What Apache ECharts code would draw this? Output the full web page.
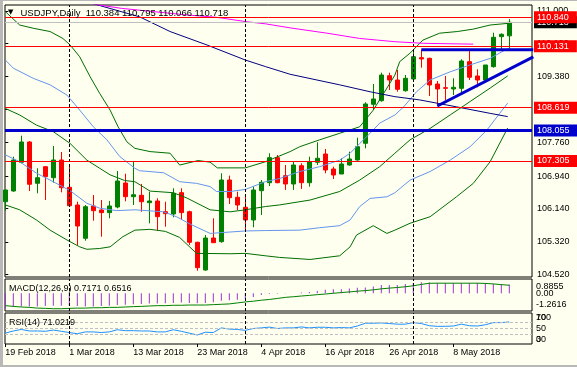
<!DOCTYPE html>
<html><head><meta charset="utf-8">
<script src="https://cdn.jsdelivr.net/npm/echarts@6/dist/echarts.min.js"></script>
<style>
html,body{margin:0;padding:0;background:#FFFFF0;overflow:hidden}
#wrap{position:relative;width:577px;height:367px}
#c{position:absolute;left:0;top:0;width:577px;height:367px}
.gl{position:absolute;left:0;top:0;width:3px;height:367px;background:#B8B8B8}
.gt{position:absolute;left:0;top:0;width:577px;height:1px;background:#B8B8B8}
.gb{position:absolute;left:0;bottom:0;width:577px;height:2px;background:#B8B8B8}
</style></head>
<body><div id="wrap"><div id="c"></div><div class="gl"></div><div class="gt"></div><div class="gb"></div></div>
<script>
// ---------------- DATA ----------------
const symbolTitle = 'USDJPY,Daily';
const lastBarOHLC = ['110.384', '110.795', '110.066', '110.718'];
const dateLabelIdx = [0, 8, 16, 24, 32, 40, 48, 56];
const dateLabels = ['19 Feb 2018', '1 Mar 2018', '13 Mar 2018', '23 Mar 2018', '4 Apr 2018', '16 Apr 2018', '26 Apr 2018', '8 May 2018'];
const monthStarts = [8, 30, 51];

const opens = [106.309,106.572,107.277,107.776,106.761,107.169,106.899,107.334,106.663,106.228,105.410,106.204,106.105,106.040,106.179,106.769,106.432,106.467,106.285,106.327,106.064,106.008,106.531,106.064,105.312,104.631,105.417,105.327,106.842,106.418,106.172,105.860,106.580,106.776,107.391,106.948,106.744,107.194,106.776,107.277,107.481,107.113,106.990,107.211,107.334,107.744,108.702,108.791,109.405,109.299,109.036,109.324,109.848,109.832,109.201,109.110,109.078,109.095,109.749,109.398,109.299,109.627,110.364,110.384];
const highs = [106.600,107.415,107.931,107.800,107.130,107.180,107.678,107.530,107.194,106.309,106.228,106.474,106.351,106.327,107.064,106.997,107.309,106.744,106.555,106.393,106.309,106.639,106.639,106.088,105.327,105.491,105.901,107.007,106.950,106.555,106.449,106.678,106.842,107.499,107.457,107.211,107.309,107.253,107.415,107.769,107.604,107.169,107.376,107.538,107.882,108.752,109.201,109.479,109.479,109.545,109.422,109.995,110.040,109.848,109.275,109.398,109.341,109.808,110.054,109.562,109.668,110.462,110.447,110.795];
const lows = [106.088,106.555,107.253,106.572,106.516,106.351,106.776,106.540,106.187,105.246,105.351,105.843,105.450,105.901,106.147,106.319,106.228,106.064,105.778,105.597,105.695,105.926,105.860,105.246,104.614,104.614,105.295,105.302,106.253,106.105,105.632,105.680,105.983,106.695,106.761,106.597,106.597,106.622,106.678,107.211,107.007,106.867,106.990,107.194,107.317,107.621,108.562,108.766,109.054,109.012,109.012,109.299,109.602,108.906,108.661,108.808,108.931,108.973,109.299,109.120,109.258,109.602,110.037,110.066];
const closes = [106.597,107.334,107.776,106.737,106.899,106.924,107.334,106.653,106.211,105.712,106.187,106.088,106.040,106.204,106.818,106.432,106.481,106.309,106.327,105.941,106.015,106.516,106.040,105.312,104.688,105.417,105.302,106.842,106.408,106.228,105.860,106.597,106.786,107.391,106.776,106.744,107.211,106.776,107.292,107.376,107.088,106.965,107.236,107.359,107.661,108.710,108.833,109.422,109.299,109.071,109.341,109.872,109.816,109.177,109.078,109.095,109.120,109.766,109.366,109.299,109.668,110.349,110.422,110.718];

// indicator lines: [bar index, price]
const bbUpper2 = [[0,110.98],[1.8,110.65],[3.5,110.57],[5.6,110.49],[7.2,110.32],[8.1,110.16],[9.3,109.87],[10.6,109.38],[11.8,108.97],[13.1,108.56],[14.1,108.15],[15.2,107.78],[16.2,107.62],[18.1,107.54],[20.6,107.50],[21.8,107.21],[24.1,107.32],[25.6,107.28],[26.5,107.14],[30,107.14],[32.5,107.29],[35.6,107.54],[36.8,107.66],[39.3,107.83],[41.8,107.99],[44.3,108.15],[46,108.56],[47.7,109.10],[48.7,109.42],[49.3,109.75],[50.6,109.96],[52.2,110.28],[54.3,110.45],[56.5,110.49],[58.5,110.55],[60.6,110.65],[62.8,110.69]];
const bbUpper1 = [[0,109.79],[1,109.59],[3.5,109.34],[5.6,109.18],[7.7,108.93],[9.3,108.56],[11,108.15],[12.7,107.83],[14.3,107.42],[16.2,107.13],[16.8,107.07],[19.8,107.02],[21.8,106.80],[23.9,106.76],[25.6,106.68],[26.4,106.56],[28.1,106.56],[30,106.61],[32.5,106.80],[34.3,106.88],[36.8,107.05],[39.3,107.17],[41.8,107.33],[43.1,107.50],[44.3,107.74],[45.6,107.99],[46.8,108.24],[48.7,108.44],[49.8,108.64],[51.4,109.01],[53.1,109.30],[55.6,109.50],[58.1,109.67],[60.6,109.83],[62.5,110.04],[63,110.08]];
const bbMid = [[0,108.60],[1.8,108.44],[3.9,108.19],[6,108.03],[8.1,107.74],[10.2,107.33],[11.8,107.13],[13.1,106.97],[14.9,106.83],[16.2,106.80],[18.1,106.57],[21,106.53],[22.7,106.40],[25.6,106.11],[28.1,106.06],[30,106.11],[32.5,106.19],[34.3,106.23],[38.1,106.35],[41.8,106.56],[44.3,106.84],[46.8,107.17],[48.7,107.50],[50.6,107.83],[53.1,108.11],[55.6,108.44],[58.1,108.77],[60.6,109.10],[62.8,109.40]];
const bbLower1 = [[0,107.46],[1.8,107.29],[3.9,107.01],[6,106.80],[8.1,106.58],[10.2,106.27],[11.8,106.15],[13.9,106.09],[16.2,106.11],[19.8,106.06],[21.4,105.94],[23.1,105.76],[25.6,105.53],[30,105.59],[32.5,105.60],[36.8,105.61],[39.3,105.67],[41.8,105.72],[43.1,105.86],[44.3,106.19],[45.6,106.39],[47.7,106.43],[48.7,106.53],[50.6,106.84],[53.1,107.05],[55.6,107.33],[58.1,107.66],[60.2,108.07],[61.8,108.48],[62.8,108.73]];
const bbLower2 = [[0,106.23],[1.8,106.11],[3.9,105.86],[5.6,105.61],[7.7,105.37],[9.3,105.20],[10.2,105.14],[11.8,105.16],[13.1,105.20],[14.7,105.45],[16.2,105.61],[18.1,105.63],[20,105.58],[21.8,105.43],[23.9,105.04],[28.1,105.03],[30,105.04],[32.5,104.98],[34.3,104.94],[38.1,104.89],[41.8,104.98],[43.1,105.20],[43.9,105.49],[46,105.72],[47.7,105.53],[48.7,105.61],[50.6,105.78],[53.1,105.94],[56.4,106.43],[58.5,106.76],[60.6,107.29],[62.8,108.12]];
const maNavy = [[10,111.24],[11.6,111.14],[16.8,110.85],[20.6,110.49],[25.2,110.16],[30,109.79],[32.5,109.63],[35.6,109.44],[41.8,109.18],[45.6,109.01],[48.7,108.89],[51.8,108.81],[56.4,108.64],[60.6,108.48],[62.8,108.40]];
const maMagenta = [[10,111.20],[11.8,111.14],[14.5,111.06],[22.5,110.90],[26.4,110.84],[30.2,110.73],[32.5,110.68],[35.6,110.58],[40.2,110.45],[44.3,110.32],[48.7,110.24],[52.3,110.20],[58.5,110.18]];

// drawn objects
const resistanceLine = [[52,110.04],[66,110.04]];
const supportLine = [[54,108.661],[66,109.867]];
const redLevels = [110.840, 110.131, 108.619, 107.305];
const blueLevel = 108.055;
const bidLevel = 110.718;
const priceTicks = [104.52,105.32,106.14,106.94,107.76,108.57,109.38,110.19,111.00];

// MACD(12,26,9)
const macdMain = [-1.26,-1.11,-1.06,-1.06,-1.06,-1.03,-1.00,-1.00,-1.00,-1.03,-1.06,-1.06,-1.03,-1.00,-0.95,-0.92,-0.89,-0.86,-0.83,-0.83,-0.81,-0.78,-0.75,-0.78,-0.81,-0.78,-0.72,-0.61,-0.56,-0.53,-0.47,-0.31,-0.14,-0.06,-0.03,-0.01,0.01,0.06,0.11,0.19,0.28,0.33,0.33,0.39,0.45,0.47,0.56,0.67,0.67,0.67,0.75,0.83,0.8855,0.88,0.83,0.83,0.83,0.83,0.83,0.83,0.83,0.75,0.75,0.7171];
const macdSignal = [-1.00,-1.06,-1.11,-1.14,-1.20,-1.22,-1.25,-1.25,-1.22,-1.20,-1.20,-1.17,-1.17,-1.14,-1.14,-1.11,-1.08,-1.06,-1.03,-1.00,-1.00,-0.97,-0.97,-0.95,-0.95,-0.95,-0.92,-0.89,-0.86,-0.78,-0.70,-0.64,-0.56,-0.50,-0.42,-0.33,-0.28,-0.22,-0.17,-0.11,-0.06,0.00,0.06,0.11,0.17,0.22,0.28,0.36,0.42,0.47,0.53,0.61,0.72,0.81,0.82,0.82,0.82,0.82,0.82,0.82,0.80,0.76,0.70,0.6516];
const macdScaleVals = [0.8855, 0, -1.2616];
const macdScaleText = ['0.8855', '0.00', '-1.2616'];
const macdScaleAlign = ['top', 'middle', 'bottom'];

// RSI(14)
const rsi = [35,42,47,42,42,41,45,41,37,33,39,39,37,39,46,43,43,42,42,39,39,46,41,35,29,38,37,52,48,47,44,50,52,54.5,50,52,52,55,52,54,54,52,53,52,58,67,67,68,66,64,64,69,66,59,57,57,58,64,59,58,62,69,69,71.0219];
const rsiLevels = [70, 50, 30];
const rsiScaleVals = [100, 70, 50, 30, 0];
const rsiScaleText = ['100', '70', '50', '30', '0'];
const rsiScaleAlign = ['top', 'bottom', 'middle', 'top', 'bottom'];

// ---------------- CHART ----------------
const FONT = '"Liberation Sans", Arial, sans-serif';
const X_MIN = -0.0375, X_MAX = 65.8375;
const GREEN = '#008000', RED = '#FF0000', BB_GREEN = '#006E00', BB_BLUE = '#6495ED', BLUE = '#0000CD';
const MACD_MIN = -1.434, MACD_MAX = 1.158;

const chart = echarts.init(document.getElementById('c'), null, {renderer: 'canvas'});

function xAx(gi, withLabels) {
  return {
    type: 'value', gridIndex: gi, min: X_MIN, max: X_MAX,
    axisLine: {show: false}, splitLine: {show: false},
    axisTick: withLabels ? {show: true, length: 3, customValues: dateLabelIdx, lineStyle: {color: '#000'}} : {show: false},
    axisLabel: withLabels ? {
      show: true, customValues: dateLabelIdx, align: 'left', margin: 4,
      fontSize: 9, fontFamily: FONT, color: '#000', hideOverlap: false,
      formatter: v => { const k = dateLabelIdx.indexOf(Math.round(v)); return k >= 0 ? dateLabels[k] : ''; }
    } : {show: false}
  };
}
// one overlaid scale axis per label alignment, like the terminal's sub-window scales
function subAxes(gi, min, max, vals, texts, aligns) {
  return ['top', 'middle', 'bottom'].map(va => {
    const v = vals.filter((_, k) => aligns[k] === va);
    return {
      type: 'value', gridIndex: gi, position: 'right', min, max,
      axisLine: {show: false}, splitLine: {show: false}, axisTick: {show: false},
      axisLabel: {
        show: v.length > 0, customValues: v, margin: 4, verticalAlign: va,
        showMinLabel: true, showMaxLabel: true, hideOverlap: false,
        fontSize: 9, fontFamily: FONT, color: '#000',
        formatter: x => { for (let k = 0; k < vals.length; k++) if (Math.abs(x - vals[k]) < 1e-6) return texts[k]; return ''; }
      }
    };
  });
}
function monthLines() {
  return {
    silent: true, symbol: ['none', 'none'], label: {show: false},
    lineStyle: {color: '#000', width: 1, type: [3, 2]},
    data: monthStarts.map(m => ({xAxis: m}))
  };
}
function lineSeries(name, data, color, width) {
  return {name, type: 'line', xAxisIndex: 0, yAxisIndex: 0, data, showSymbol: false, symbol: 'none',
    lineStyle: {color, width: width || 1}, silent: true, z: 3, clip: true};
}
function lvlLabel(text, bg) {
  return {show: true, position: 'end', distance: 2, formatter: text, backgroundColor: bg, color: '#fff',
    padding: [2, 8, 1, 3], fontSize: 9, fontFamily: FONT};
}

const macdAxes = subAxes(1, MACD_MIN, MACD_MAX, macdScaleVals, macdScaleText, macdScaleAlign);
const rsiAxes = subAxes(2, 0, 100, rsiScaleVals, rsiScaleText, rsiScaleAlign);

const option = {
  animation: false,
  backgroundColor: '#FFFFF0',
  title: [
    {left: 8, top: 9, padding: 0, text: '▼', textStyle: {fontSize: 7, color: '#000', fontWeight: 'normal', fontFamily: '"DejaVu Sans", sans-serif'}},
    {left: 20.5, top: 7, padding: 0, text: symbolTitle + '  ' + lastBarOHLC.join(' '),
      textStyle: {fontSize: 9.5, lineHeight: 12, color: '#000', fontWeight: 'normal', fontFamily: FONT}},
    {left: 9, top: 283, padding: 0, text: 'MACD(12,26,9) ' + macdMain[macdMain.length - 1].toFixed(4) + ' ' + macdSignal[macdSignal.length - 1].toFixed(4),
      textStyle: {fontSize: 9, lineHeight: 11, color: '#000', fontWeight: 'normal', fontFamily: FONT}},
    {left: 9, top: 317, padding: 0, text: 'RSI(14) ' + rsi[rsi.length - 1].toFixed(4),
      textStyle: {fontSize: 9, lineHeight: 11, color: '#000', fontWeight: 'normal', fontFamily: FONT}}
  ],
  grid: [
    {left: 5, top: 5, width: 527, height: 272, show: true, borderColor: '#000', borderWidth: 1, backgroundColor: 'transparent'},
    {left: 5, top: 279, width: 527, height: 32, show: true, borderColor: '#000', borderWidth: 1, backgroundColor: 'transparent'},
    {left: 5, top: 313, width: 527, height: 31, show: true, borderColor: '#000', borderWidth: 1, backgroundColor: 'transparent'}
  ],
  xAxis: [xAx(0, false), xAx(1, false), xAx(2, true)],
  yAxis: [
    {type: 'value', gridIndex: 0, position: 'right', min: 104.459, max: 111.142,
      axisLine: {show: false}, splitLine: {show: false},
      axisTick: {show: true, length: 3, customValues: priceTicks, lineStyle: {color: '#000'}},
      axisLabel: {customValues: priceTicks, margin: 5, fontSize: 9, fontFamily: FONT, color: '#000', hideOverlap: false, formatter: v => v.toFixed(3)}},
    macdAxes[0], rsiAxes[0], macdAxes[1], macdAxes[2], rsiAxes[1], rsiAxes[2]
  ],
  series: [
    {
      name: 'USDJPY', type: 'candlestick', xAxisIndex: 0, yAxisIndex: 0,
      data: opens.map((o, i) => [i, o, closes[i], lows[i], highs[i]]),
      encode: {x: 0, y: [1, 2, 3, 4]},
      barWidth: 5, z: 2,
      itemStyle: {color: GREEN, color0: RED, borderColor: GREEN, borderColor0: RED, borderWidth: 1},
      markLine: monthLines()
    },
    lineSeries('BB upper 2', bbUpper2, BB_GREEN),
    lineSeries('BB upper 1', bbUpper1, BB_BLUE),
    lineSeries('BB mid', bbMid, BB_GREEN),
    lineSeries('BB lower 1', bbLower1, BB_BLUE),
    lineSeries('BB lower 2', bbLower2, BB_GREEN),
    lineSeries('MA navy', maNavy, '#000080'),
    lineSeries('MA magenta', maMagenta, '#FF00FF'),
    Object.assign(lineSeries('support', supportLine, BLUE, 3), {z: 4}),
    Object.assign(lineSeries('resistance', resistanceLine, BLUE, 3), {
      z: 4,
      markLine: {
        silent: true, symbol: ['none', 'none'],
        data: [
          {yAxis: bidLevel, lineStyle: {color: '#C0C0C0', width: 1, type: 'solid'}, label: lvlLabel(bidLevel.toFixed(3), '#000')},
          {yAxis: blueLevel, lineStyle: {color: BLUE, width: 3, type: 'solid'}, label: lvlLabel(blueLevel.toFixed(3), BLUE)}
        ].concat(redLevels.map(v => ({yAxis: v, lineStyle: {color: RED, width: 1, type: 'solid'}, label: lvlLabel(v.toFixed(3), RED)})))
      }
    }),
    {
      name: 'MACD', type: 'bar', xAxisIndex: 1, yAxisIndex: 1,
      data: macdMain.map((v, i) => [i, v]), barWidth: 1,
      itemStyle: {color: '#9932CC'}, silent: true, markLine: monthLines()
    },
    {
      name: 'Signal', type: 'line', xAxisIndex: 1, yAxisIndex: 1,
      data: macdSignal.map((v, i) => [i, v]), showSymbol: false, symbol: 'none',
      lineStyle: {color: GREEN, width: 1}, silent: true, z: 3
    },
    {
      name: 'RSI', type: 'line', xAxisIndex: 2, yAxisIndex: 2,
      data: rsi.map((v, i) => [i, v]), showSymbol: false, symbol: 'none',
      lineStyle: {color: '#1E90FF', width: 1}, silent: true, z: 3,
      markLine: {
        silent: true, symbol: ['none', 'none'], label: {show: false},
        data: rsiLevels.map(v => ({yAxis: v, lineStyle: {color: '#C0C0C0', width: 1, type: [3, 2]}}))
          .concat(monthStarts.map(m => ({xAxis: m, lineStyle: {color: '#000', width: 1, type: [3, 2]}})))
      }
    }
  ]
};
chart.setOption(option);
</script>
</body></html>
